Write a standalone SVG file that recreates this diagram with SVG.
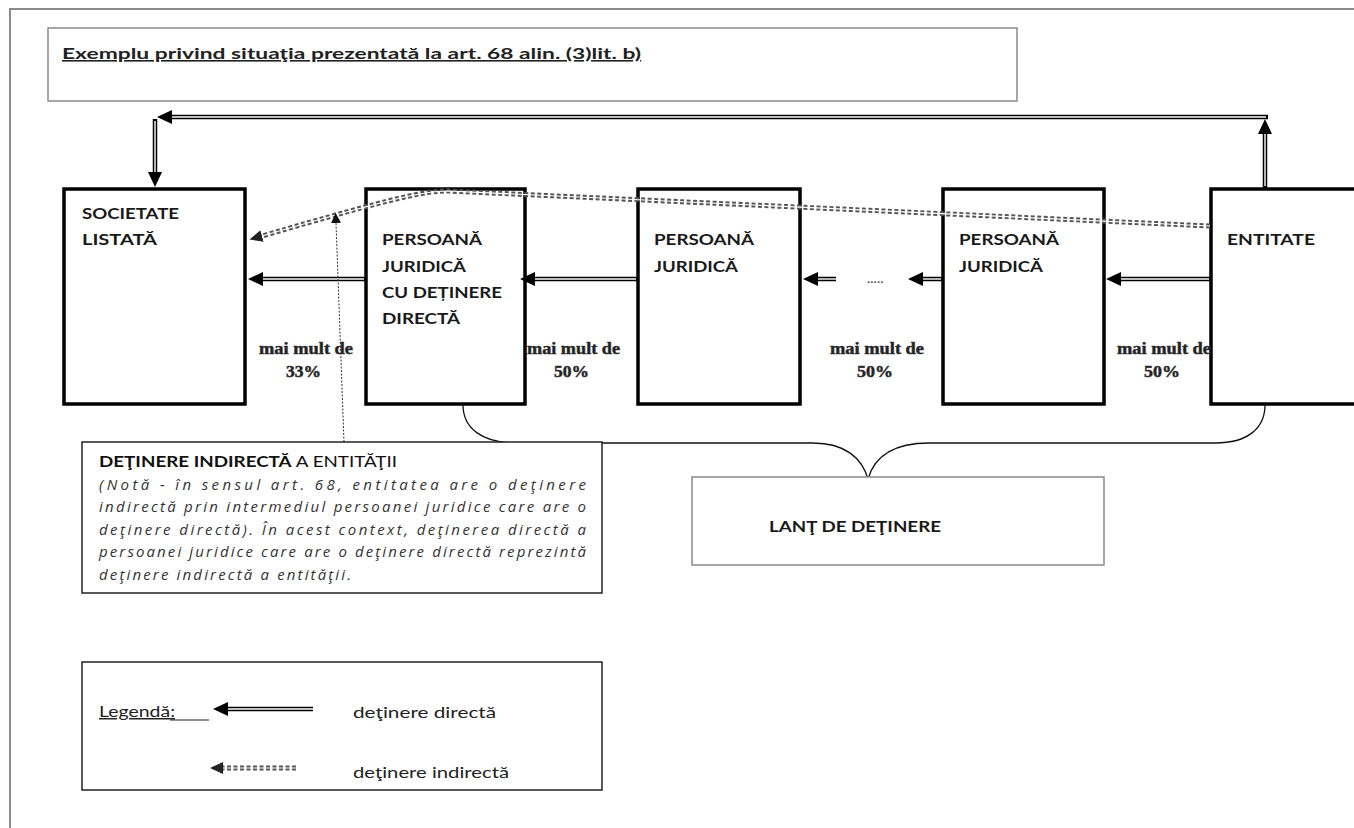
<svg xmlns="http://www.w3.org/2000/svg" width="1354" height="828" viewBox="0 0 1354 828">
<defs>
<style>
.frame{fill:none;stroke:#8a8a8a;stroke-width:2}
.gbox{fill:#fff;stroke:#8a8a8a;stroke-width:1.5}
.tbox{fill:#fff;stroke:#222;stroke-width:1.5}
.node{fill:#fff;stroke:#000;stroke-width:3.5}
.lbl{font-family:Lato,"Liberation Sans",sans-serif;font-weight:bold;font-size:16px;fill:#1a1a1a}
.pct{font-family:"Liberation Serif",serif;font-weight:bold;font-size:17px;fill:#222;stroke:#333;stroke-width:0.5}
.note{font-family:"Open Sans","Liberation Sans",sans-serif;font-style:italic;font-size:15px;fill:#333}
.txt{font-family:Lato,"Liberation Sans",sans-serif;font-size:15px;fill:#222}
.dbl{fill:none;stroke:#000;stroke-width:4.5}
.dblw{fill:none;stroke:#fff;stroke-width:1.4}
.ind{fill:none;stroke:#555;stroke-width:5;stroke-dasharray:4 2.5}
.indw{fill:none;stroke:#fff;stroke-width:1.2}
.ptr{fill:none;stroke:#333;stroke-width:1;stroke-dasharray:2 1.5}
.brace{fill:none;stroke:#111;stroke-width:1.3}
</style>
<marker id="ah" viewBox="0 0 15 14" refX="0" refY="7" markerWidth="15" markerHeight="14" markerUnits="userSpaceOnUse" orient="auto"><path d="M0,0 L15,7 L0,14 z" fill="#000"/></marker>
<marker id="ahi" viewBox="0 0 13 12" refX="0" refY="6" markerWidth="13" markerHeight="12" markerUnits="userSpaceOnUse" orient="auto"><path d="M0,0 L13,6 L0,12 z" fill="#222"/></marker>
<marker id="ahp" viewBox="0 0 10 10" refX="0" refY="5" markerWidth="10" markerHeight="10" markerUnits="userSpaceOnUse" orient="auto"><path d="M0,0 L10,5 L0,10 z" fill="#111"/></marker>
</defs>
<rect width="1354" height="828" fill="#fff"/>
<path class="frame" d="M10,828 V9 H1354"/>

<g id="title">
<rect class="gbox" x="48" y="28" width="969" height="73"/>
<text x="62" y="59" font-family="Lato,'Liberation Sans',sans-serif" font-weight="bold" font-size="16" fill="#222" text-decoration="underline" textLength="579" lengthAdjust="spacingAndGlyphs">Exemplu privind situaţia prezentată la art. 68 alin. (3)lit. b)</text>
</g>

<g id="societate">
<rect class="node" x="64" y="189" width="181" height="215"/>
<text class="lbl" x="82" y="219" textLength="97" lengthAdjust="spacingAndGlyphs">SOCIETATE</text>
<text class="lbl" x="82" y="245" textLength="75" lengthAdjust="spacingAndGlyphs">LISTATĂ</text>
</g>
<g id="pj-directa">
<rect class="node" x="366" y="189" width="159" height="215"/>
<text class="lbl" x="382" y="245" textLength="100" lengthAdjust="spacingAndGlyphs">PERSOANĂ</text>
<text class="lbl" x="382" y="272" textLength="84" lengthAdjust="spacingAndGlyphs">JURIDICĂ</text>
<text class="lbl" x="382" y="298" textLength="120" lengthAdjust="spacingAndGlyphs">CU DEȚINERE</text>
<text class="lbl" x="382" y="324" textLength="78" lengthAdjust="spacingAndGlyphs">DIRECTĂ</text>
</g>
<g id="pj-2">
<rect class="node" x="638" y="189" width="162" height="215"/>
<text class="lbl" x="654" y="245" textLength="100" lengthAdjust="spacingAndGlyphs">PERSOANĂ</text>
<text class="lbl" x="654" y="272" textLength="84" lengthAdjust="spacingAndGlyphs">JURIDICĂ</text>
</g>
<g id="pj-3">
<rect class="node" x="943" y="189" width="161" height="215"/>
<text class="lbl" x="959" y="245" textLength="100" lengthAdjust="spacingAndGlyphs">PERSOANĂ</text>
<text class="lbl" x="959" y="272" textLength="84" lengthAdjust="spacingAndGlyphs">JURIDICĂ</text>
</g>
<g id="entitate">
<path d="M1360,189 H1211 V404 H1360" fill="#fff" stroke="#000" stroke-width="3.5"/>
<text class="lbl" x="1227" y="245" textLength="88" lengthAdjust="spacingAndGlyphs">ENTITATE</text>
</g>

<g id="connectors">
<path class="dbl" d="M1265,188 V134" marker-end="url(#ah)"/>
<path class="dblw" d="M1265,186 V134"/>
<path class="dbl" d="M1268,117 H172" marker-end="url(#ah)"/>
<path class="dblw" d="M1266,117 H172"/>
<path class="dbl" d="M155,119 V172" marker-end="url(#ah)"/>
<path class="dblw" d="M155,121 V172"/>
<path class="dbl" d="M366,279 H263" marker-end="url(#ah)"/>
<path class="dblw" d="M364,279 H263"/>
<path class="dbl" d="M638,279 H535" marker-end="url(#ah)"/>
<path class="dblw" d="M636,279 H535"/>
<path class="dbl" d="M836,279 H818" marker-end="url(#ah)"/>
<path class="dblw" d="M836,279 H818"/>
<path class="dbl" d="M943,279 H923" marker-end="url(#ah)"/>
<path class="dblw" d="M941,279 H923"/>
<path class="dbl" d="M1211,279 H1121" marker-end="url(#ah)"/>
<path class="dblw" d="M1209,279 H1121"/>
<text x="867" y="283" font-family="Lato,'Liberation Sans',sans-serif" font-size="14" fill="#444">.....</text>
<path class="ind" d="M1210,226 L448,191 C425,191 400,196 262,236" marker-end="url(#ahi)"/>
<path class="indw" d="M1210,226 L448,191 C425,191 400,196 262,236"/>
<path class="ptr" d="M344,442 L336,223" marker-end="url(#ahp)"/>
<text class="pct" x="259" y="354" textLength="94" lengthAdjust="spacingAndGlyphs">mai mult de</text>
<text class="pct" x="286" y="377" textLength="35" lengthAdjust="spacingAndGlyphs">33%</text>
<text class="pct" x="527" y="354" textLength="93" lengthAdjust="spacingAndGlyphs">mai mult de</text>
<text class="pct" x="554" y="377" textLength="35" lengthAdjust="spacingAndGlyphs">50%</text>
<text class="pct" x="830" y="354" textLength="94" lengthAdjust="spacingAndGlyphs">mai mult de</text>
<text class="pct" x="857" y="377" textLength="36" lengthAdjust="spacingAndGlyphs">50%</text>
<text class="pct" x="1117" y="354" textLength="94" lengthAdjust="spacingAndGlyphs">mai mult de</text>
<text class="pct" x="1144" y="377" textLength="36" lengthAdjust="spacingAndGlyphs">50%</text>
<path class="brace" d="M463,405 C463,428 482,443 516,443 L813,443 C845,443 862,458 868,479 C874,458 892,443 929,443 L1215,443 C1248,443 1265,428 1265,405"/>
</g>

<g id="note">
<rect class="tbox" x="82" y="442" width="520" height="151"/>
<text x="99" y="467" font-family="Lato,'Liberation Sans',sans-serif" font-size="15" fill="#111" textLength="298" lengthAdjust="spacingAndGlyphs"><tspan font-weight="bold">DEŢINERE INDIRECTĂ</tspan> A ENTITĂŢII</text>
<text class="note" x="99" y="490" textLength="487" lengthAdjust="spacing">(Notă - în sensul art. 68, entitatea are o deţinere</text>
<text class="note" x="99" y="512" textLength="487" lengthAdjust="spacing">indirectă prin  intermediul persoanei juridice care are o</text>
<text class="note" x="99" y="535" textLength="487" lengthAdjust="spacing">deţinere directă). În acest context, deţinerea directă a</text>
<text class="note" x="99" y="557" textLength="487" lengthAdjust="spacing">persoanei juridice care are o deţinere directă reprezintă</text>
<text class="note" x="99" y="580" textLength="252" lengthAdjust="spacing">deţinere indirectă a entităţii.</text>
</g>

<g id="lant">
<rect class="gbox" x="692" y="477" width="412" height="88"/>
<text x="769" y="532" font-family="Lato,'Liberation Sans',sans-serif" font-weight="bold" font-size="15" fill="#1a1a1a" textLength="172" lengthAdjust="spacingAndGlyphs">LANŢ DE DEŢINERE</text>
</g>

<g id="legend">
<rect class="tbox" x="82" y="662" width="520" height="128"/>
<text class="txt" x="99" y="717" text-decoration="underline" textLength="76" lengthAdjust="spacingAndGlyphs">Legendă:</text>
<line x1="170" y1="720" x2="209" y2="720" stroke="#222" stroke-width="1"/>
<path class="dbl" d="M313,709 H228" marker-end="url(#ah)"/>
<path class="dblw" d="M313,709 H228"/>
<text class="txt" x="353" y="718" textLength="143" lengthAdjust="spacingAndGlyphs">deţinere directă</text>
<path class="ind" d="M296,768 H223" marker-end="url(#ahi)"/>
<path class="indw" d="M296,768 H223"/>
<text class="txt" x="353" y="778" textLength="156" lengthAdjust="spacingAndGlyphs">deţinere indirectă</text>
</g>
</svg>
